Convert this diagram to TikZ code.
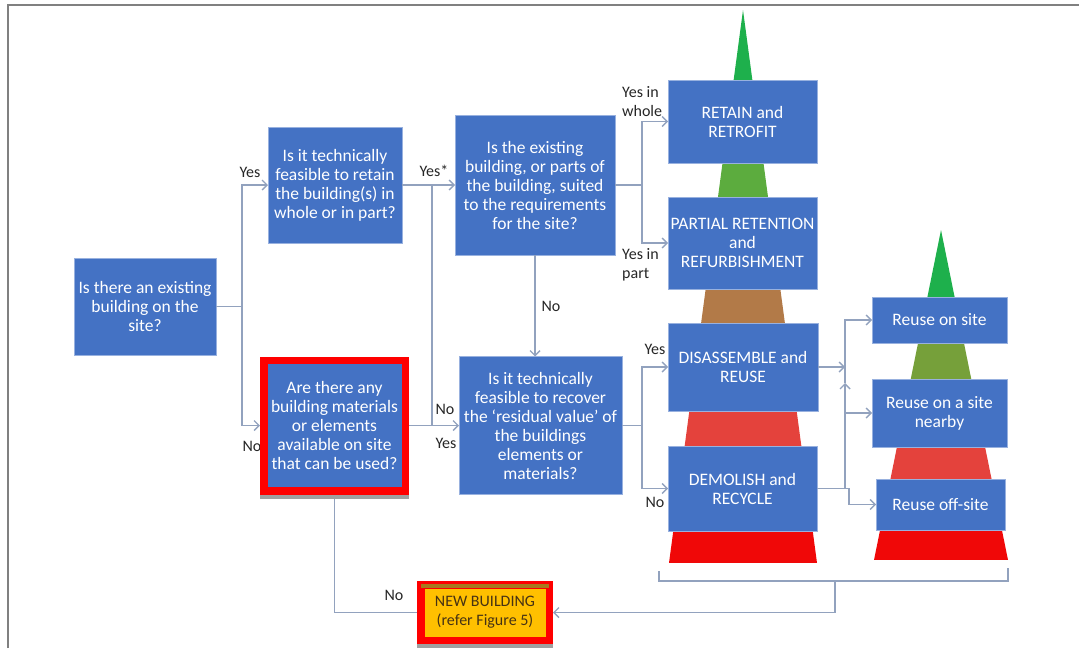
\documentclass[tikz,border=0pt]{standalone}
\usepackage{fontspec}
\setmainfont{Carlito}
\usepackage{tikz}
\usetikzlibrary{arrows.meta,calc,positioning}
\definecolor{BoxBlue}{RGB}{68,114,196}
\definecolor{LinkGray}{RGB}{146,162,190}
\definecolor{FrameGray}{RGB}{128,128,128}
\definecolor{TopGreen}{RGB}{30,176,76}
\definecolor{MidGreen}{RGB}{92,172,62}
\definecolor{OliveGreen}{RGB}{118,160,58}
\definecolor{PyrBrown}{RGB}{178,122,72}
\definecolor{SoftRed}{RGB}{228,66,60}
\definecolor{PyrRed}{RGB}{240,8,8}
\definecolor{NewYellow}{RGB}{255,192,0}
\definecolor{BandGold}{RGB}{168,122,30}
\definecolor{ShadowGray}{RGB}{160,160,160}

\begin{document}
\begin{tikzpicture}[x=1pt,y=-1pt,>={Straight Barb[length=5pt,width=10pt]},
  qbox/.style={fill=BoxBlue,draw=BoxBlue!55!white,line width=0.8pt,text=white,align=center,
    inner sep=0pt,outer sep=0pt,font=\fontsize{17.5}{19}\selectfont},
  hilite/.style={draw=red,line width=7.5pt},
  link/.style={LinkGray,line width=1.4pt},
  lab/.style={font=\fontsize{16}{19}\selectfont,text=black!85,inner sep=0pt,align=left}]
  \useasboundingbox (0,0) rectangle (1079,648);
  \draw[FrameGray,line width=1.5pt] (8,648) -- (8,5) -- (1079,5);
  % pyramids
  \begin{scope}
    \clip (743,10) -- (817,563) -- (669,563) -- cycle;
    \foreach \ya/\yb/\col in {10/140/TopGreen,140/240/MidGreen,240/360/PyrBrown,360/490/SoftRed,490/563/PyrRed}
      \fill[\col] (660,\ya) rectangle (830,\yb);
  \end{scope}
  \begin{scope}
    \clip (941,230) -- (1008,560) -- (874,560) -- cycle;
    \foreach \ya/\yb/\col in {230/320/TopGreen,320/413/OliveGreen,413/505/SoftRed,505/560/PyrRed}
      \fill[\col] (860,\ya) rectangle (1020,\yb);
  \end{scope}
  % labels
  \foreach \x/\y/\t in {250/172/Yes,252/446/No,434/171/Yes*,445/409/No,446/443/Yes,
      551/306/No,655/349/Yes,655/502/No,394/595/No}
    \node[lab] at (\x,\y) {\t};
  \node[lab,anchor=west] at (622,102) {Yes in\\whole};
  \node[lab,anchor=west] at (622,265) {Yes in\\part};
  % boxes
  \fill[ShadowGray] (260,494) rectangle (409,499);
  \fill[ShadowGray] (417,643) rectangle (553,648);
  \node[qbox,minimum width=142,minimum height=97] (exist) at (145,306.5)
    {Is there an existing\\building on the\\site?};
  \node[qbox,minimum width=134,minimum height=116] (retq) at (335,185)
    {Is it technically\\feasible to retain\\the building(s) in\\whole or in part?};
  \node[qbox,hilite,minimum width=141.5,minimum height=130.5] (matq) at (334.5,425.5)
    {Are there any\\building materials\\or elements\\available on site\\that can be used?};
  \node[qbox,minimum width=160,minimum height=140] (suitq) at (535,185)
    {Is the existing\\building, or parts of\\the building, suited\\to the requirements\\for the site?};
  \node[qbox,minimum width=163,minimum height=138] (recq) at (540.5,425.5)
    {Is it technically\\feasible to recover\\the ‘residual value’ of\\the buildings\\elements or\\materials?};
  \node[qbox,minimum width=149,minimum height=83] (retain) at (742.5,121.5) {RETAIN and\\RETROFIT};
  \node[qbox,minimum width=149,minimum height=92] (partial) at (742.5,243)
    {PARTIAL RETENTION\\and\\REFURBISHMENT};
  \node[qbox,minimum width=150,minimum height=88] (disasm) at (743,367) {DISASSEMBLE and\\REUSE};
  \node[qbox,minimum width=149,minimum height=85] (demol) at (742.5,488.5) {DEMOLISH and\\RECYCLE};
  \node[qbox,minimum width=135,minimum height=46] (onsite) at (939.5,320) {Reuse on site};
  \node[qbox,minimum width=135,minimum height=68] (nearby) at (939.5,413) {Reuse on a site\\nearby};
  \node[qbox,minimum width=129,minimum height=51] (offsite) at (940.5,504.5) {Reuse off-site};
  \node[hilite,fill=NewYellow,text={rgb,255:red,70;green,50;blue,20},align=center,inner sep=0pt,outer sep=0pt,
    minimum width=128.5,minimum height=55.5,font=\fontsize{16}{19}\selectfont] (newbld) at (485,612.5)
    {NEW BUILDING\\(refer Figure 5)};
  \fill[BandGold] (421,584) rectangle (549,588);
  % connectors
  \coordinate (splitA) at (242,306.5);
  \coordinate (splitB) at (432,185);
  \coordinate (joinB) at (432,425.5);
  \coordinate (splitC) at (642,185);
  \coordinate (splitD) at (642,425.5);
  \coordinate (mergeE) at (845,367);
  \coordinate (splitE) at (845,488.5);
  \coordinate (upE) at (845,383);
  \coordinate (brL) at (659,571);
  \coordinate (brR) at (1008,568);
  \coordinate (brM) at (835,581);
  \draw[link,->] (exist.east) -- (splitA) |- (retq.west);
  \draw[link,->] (splitA) |- ([xshift=-3.75pt]matq.west);
  \draw[link,->] (retq.east) -- (suitq.west);
  \draw[link] (splitB) -- (joinB);
  \draw[link,->] ([xshift=3.75pt]matq.east) -- (recq.west);
  \draw[link,->] (suitq.east) -- (splitC) |- (retain.west);
  \draw[link,->] (splitC) |- (partial.west);
  \draw[link,->] (suitq.south) -- (suitq.south |- recq.north);
  \draw[link,->] (recq.east) -- (splitD) |- (disasm.west);
  \draw[link,->] (splitD) |- (demol.west);
  \draw[link,->] (disasm.east) -- (mergeE);
  \draw[link,->] (demol.east) -- (splitE) -- (upE);
  \draw[link,->] (upE) |- (onsite.west);
  \draw[link,->] (nearby.west -| splitE) -- (nearby.west);
  \draw[link,->] (splitE) -- ++(4,0) |- (offsite.west);
  \draw[link] (brL) -- (brL |- brM) -- (brR |- brM) -- (brR);
  \draw[link,->] (brM) |- ([xshift=3.75pt]newbld.east);
  \draw[link] ([yshift=-8pt]matq.south) |- ([xshift=-3.75pt]newbld.west);
\end{tikzpicture}
\end{document}
